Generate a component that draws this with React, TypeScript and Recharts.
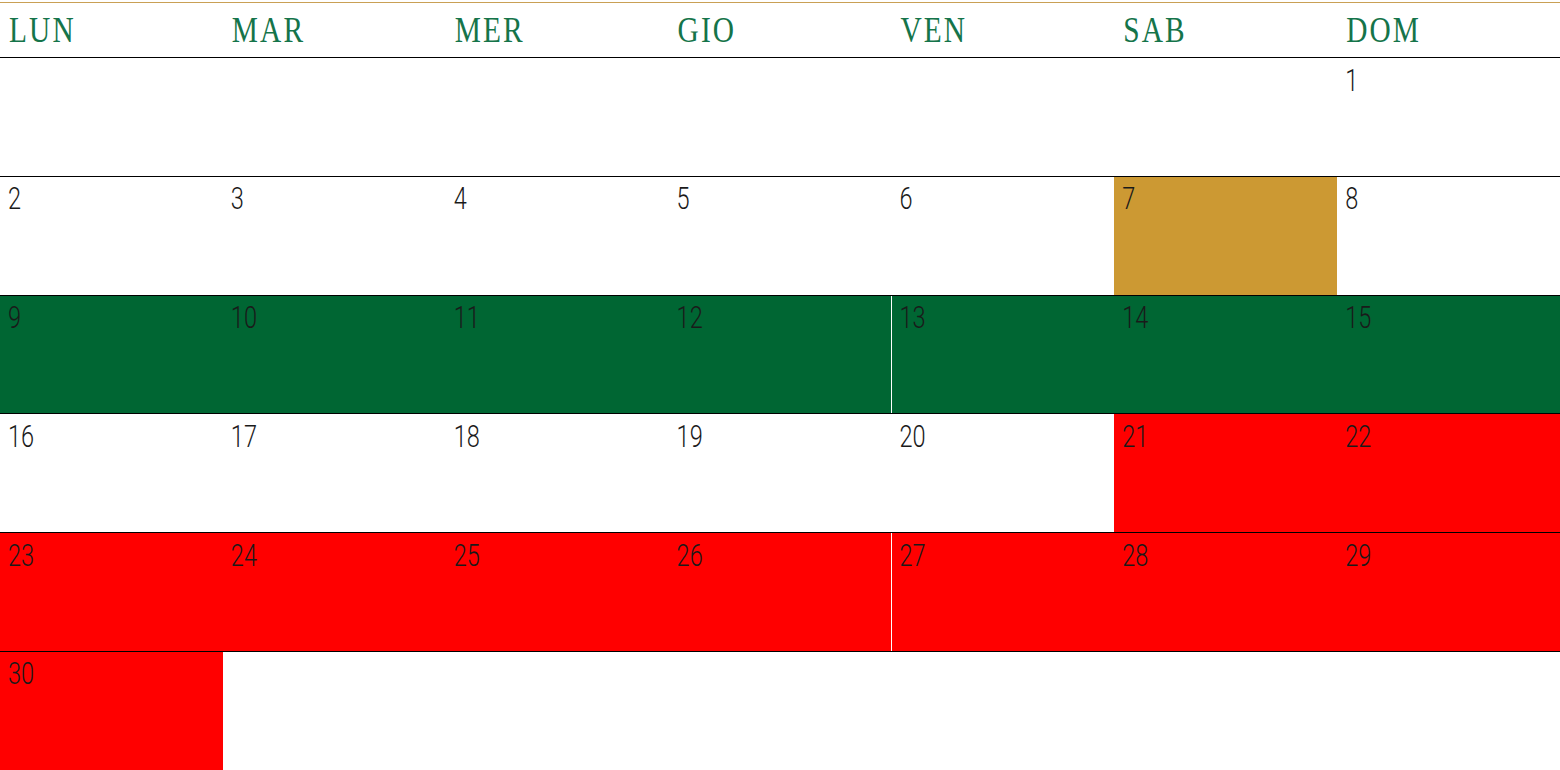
import { ScatterChart, Scatter, XAxis, YAxis, ReferenceArea, ReferenceLine } from 'recharts';

const dayNames = ['LUN', 'MAR', 'MER', 'GIO', 'VEN', 'SAB', 'DOM'];

const weeks: (number | null)[][] = [
  [null, null, null, null, null, null, 1],
  [2, 3, 4, 5, 6, 7, 8],
  [9, 10, 11, 12, 13, 14, 15],
  [16, 17, 18, 19, 20, 21, 22],
  [23, 24, 25, 26, 27, 28, 29],
  [30, null, null, null, null, null, null],
];

// highlighted stretches: week row, first column, end column (exclusive)
const spans = [
  { week: 1, from: 5, to: 6, color: '#cc9933' },
  { week: 2, from: 0, to: 4, color: '#006633' },
  { week: 2, from: 4, to: 7, color: '#006633' },
  { week: 3, from: 5, to: 7, color: '#ff0000' },
  { week: 4, from: 0, to: 4, color: '#ff0000' },
  { week: 4, from: 4, to: 7, color: '#ff0000' },
  { week: 5, from: 0, to: 1, color: '#ff0000' },
];

const HEADER_TOP = -0.485;
const GOLD_RULE = -0.46;
const SPAN_GAP = 0.0035; // thin white seam where two stretches meet

const cells = weeks.flatMap((week, row) =>
  week.map((day, col) => ({ x: col, y: row, day })).filter((c) => c.day !== null)
);
const headers = dayNames.map((label, col) => ({ x: col, y: HEADER_TOP, label }));

const DayCell = (props: any) => {
  const { cx, cy, payload } = props;
  return (
    <text
      transform={`translate(${cx + 8},${cy + 33}) scale(0.76,1)`}
      fill="#1a1a1a"
      fontFamily="Roboto"
      fontWeight={300}
      fontSize={31}
    >
      {payload.day}
    </text>
  );
};

const HeaderCell = (props: any) => {
  const { cx, cy, payload } = props;
  return (
    <text
      transform={`translate(${cx + 9},${cy + 42}) scale(0.84,1)`}
      fill="#15744a"
      fontFamily="'Liberation Serif', serif"
      fontSize={35}
      letterSpacing={2.5}
    >
      {payload.label}
    </text>
  );
};

export default function App() {
  return (
    <div style={{ position: 'absolute', left: 0, top: 0, background: '#fff' }}>
      <ScatterChart width={1560} height={770} margin={{ top: 0, right: 0, bottom: 0, left: 0 }}>
        <XAxis type="number" dataKey="x" domain={[0, 7]} hide allowDataOverflow />
        <YAxis type="number" dataKey="y" domain={[HEADER_TOP, 6]} reversed hide allowDataOverflow />
        {spans.map((s, i) => {
          const joined = spans.some((o) => o.week === s.week && o.to === s.from);
          return (
            <ReferenceArea
              key={i}
              x1={joined ? s.from + SPAN_GAP : s.from}
              x2={s.to}
              y1={s.week}
              y2={s.week + 1}
              fill={s.color}
              fillOpacity={1}
              stroke="none"
              shapeRendering="crispEdges"
            />
          );
        })}
        <ReferenceLine y={GOLD_RULE} stroke="#c9a055" strokeWidth={1} shapeRendering="crispEdges" />
        {weeks.map((_, row) => (
          <ReferenceLine key={row} y={row} stroke="#000000" strokeWidth={1} shapeRendering="crispEdges" />
        ))}
        <Scatter data={headers} shape={<HeaderCell />} isAnimationActive={false} />
        <Scatter data={cells} shape={<DayCell />} isAnimationActive={false} />
      </ScatterChart>
    </div>
  );
}
